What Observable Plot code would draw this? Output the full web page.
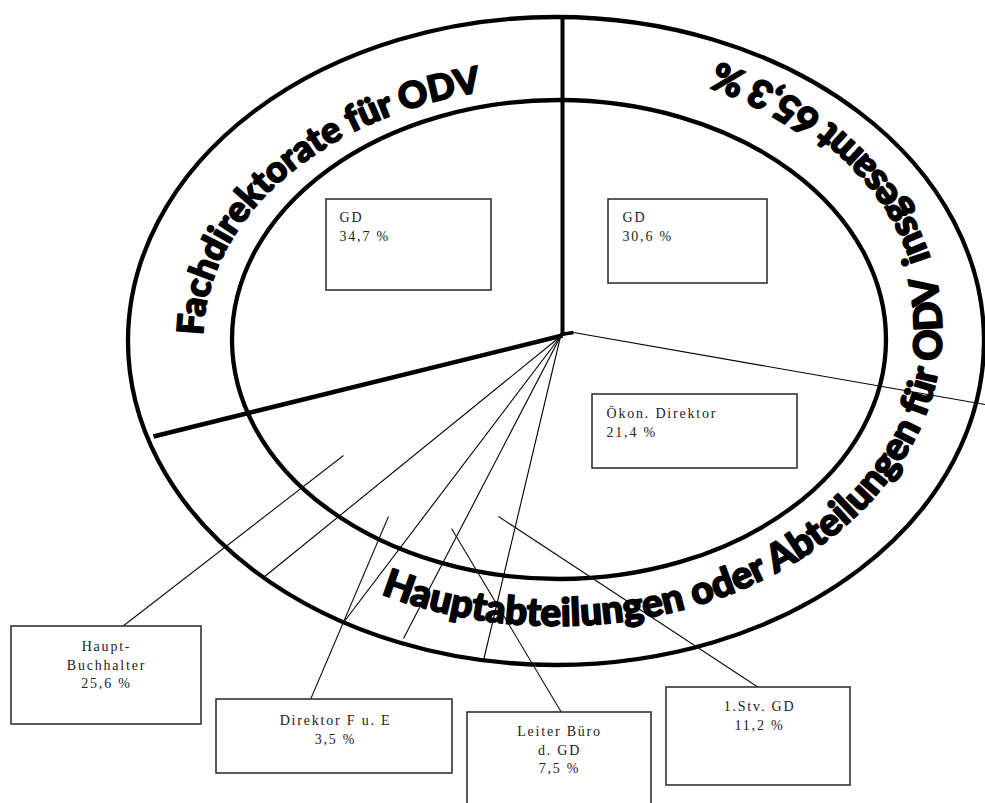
<!DOCTYPE html>
<html><head><meta charset="utf-8">
<script src="https://cdn.jsdelivr.net/npm/d3@7"></script>
<script src="https://cdn.jsdelivr.net/npm/@observablehq/plot@0.6"></script>
<style>
html,body{margin:0;padding:0;background:#fff;overflow:hidden;}
#chart svg{display:block;}
</style></head><body><div id="chart"></div>
<script>
// ---------------- data ----------------
const units  = ["GD", "GD", "Ökon. Direktor", "Haupt-\nBuchhalter", "Direktor F u. E", "Leiter Büro\nd. GD", "1.Stv. GD"];
const shares = [34.7, 30.6, 21.4, 25.6, 3.5, 7.5, 11.2];
const groupNames = ["Fachdirektorate für ODV", "Hauptabteilungen oder Abteilungen für ODV"];
const groupTotal = 65.3;

const fmt = v => v.toFixed(1).replace(".", ",") + " %";

// ---------------- layout (diagram geometry, in plot units) ----------------
const rings = [
  {cx: 556, cy: 341, rx: 428, ry: 324},   // outer ring
  {cx: 559, cy: 339.5, rx: 327, ry: 239.5} // inner ring
];
const dividers = [                         // heavy section borders
  {x1: 562, y1: 15,  x2: 562, y2: 335, w: 4},
  {x1: 560, y1: 334, x2: 573, y2: 332, w: 3.5},
  {x1: 562, y1: 335, x2: 153, y2: 436, w: 4.5}
];
const spokes = [                           // thin slice borders
  {x1: 573, y1: 332, x2: 990, y2: 405},
  {x1: 560, y1: 336, x2: 263, y2: 577},
  {x1: 560, y1: 336, x2: 343, y2: 622},
  {x1: 560, y1: 336, x2: 403, y2: 638},
  {x1: 560, y1: 336, x2: 483, y2: 660}
];
const leaders = [                          // callout lines
  {x1: 343, y1: 455, x2: 122, y2: 626},
  {x1: 388, y1: 516, x2: 310, y2: 699},
  {x1: 451, y1: 528, x2: 561, y2: 712},
  {x1: 498, y1: 516, x2: 758, y2: 687}
];
const boxes = [
  {x1: 326, y1: 199, x2: 491, y2: 290, tx: 339, ty: 209, anchor: "start"},
  {x1: 608, y1: 199, x2: 767, y2: 283, tx: 622, ty: 209, anchor: "start"},
  {x1: 592, y1: 394, x2: 797, y2: 468, tx: 606, ty: 405, anchor: "start"},
  {x1: 11,  y1: 626, x2: 201, y2: 724, tx: 106, ty: 638, anchor: "middle"},
  {x1: 216, y1: 699, x2: 452, y2: 773, tx: 335, ty: 712, anchor: "middle"},
  {x1: 467, y1: 712, x2: 651, y2: 815, tx: 559, ty: 723, anchor: "middle"},
  {x1: 666, y1: 687, x2: 850, y2: 785, tx: 759, ty: 698, anchor: "middle"}
];
const ringTexts = [
  {text: groupNames[0], cx: 557, cy: 340, rx: 354, ry: 254, t0: 181, t1: 258},
  {text: groupNames[1] + "  insgesamt " + fmt(groupTotal), cx: 556, cy: 330, rx: 386, ry: 296, t0: 117, t1: -66}
];

const boxData = units.map((u, i) => ({label: u + "\n" + fmt(shares[i]), ...boxes[i]}));

// ---------------- custom marks using Plot scales ----------------
function ringMark(index, scales) {
  const {x, y} = scales;
  const g = d3.create("svg:g").attr("fill", "none").attr("stroke", "#000").attr("stroke-width", 4.3);
  for (const e of rings) {
    g.append("ellipse")
      .attr("cx", x(e.cx)).attr("cy", y(e.cy))
      .attr("rx", Math.abs(x(e.cx + e.rx) - x(e.cx)))
      .attr("ry", Math.abs(y(e.cy + e.ry) - y(e.cy)));
  }
  return g.node();
}

const ringFont = "Lato, 'DejaVu Sans', 'Liberation Sans', sans-serif";

function ringTextMark(index, scales) {
  const {x, y} = scales;
  const g = d3.create("svg:g").attr("class", "ring-text").attr("text-anchor", "start");
  const defs = g.append("defs");
  ringTexts.forEach((r, i) => {
    const pt = t => [x(r.cx + r.rx * Math.cos(t)), y(r.cy + r.ry * Math.sin(t))];
    const t0 = r.t0 * Math.PI / 180, t1 = r.t1 * Math.PI / 180;
    const n = 240;
    let d = "", L = 0, prev = null;
    for (let k = 0; k <= n; k++) {
      const p = pt(t0 + (t1 - t0) * k / n);
      d += (k ? "L" : "M") + p[0].toFixed(2) + "," + p[1].toFixed(2);
      if (prev) L += Math.hypot(p[0] - prev[0], p[1] - prev[1]);
      prev = p;
    }
    const id = "ringpath" + i;
    defs.append("path").attr("id", id).attr("d", d);
    g.append("text")
      .attr("data-len", L.toFixed(1))
      .attr("text-anchor", "start")
      .attr("font-family", ringFont)
      .attr("font-weight", 900)
      .attr("font-size", 30)
      .attr("fill", "#000")
      .attr("stroke", "#000")
      .attr("stroke-width", 1.7)
      .attr("stroke-linejoin", "round")
      .style("white-space", "pre")
      .append("textPath")
      .attr("href", "#" + id)
      .attr("startOffset", 0)
      .text(r.text);
  });
  return g.node();
}

// ---------------- plot ----------------
const chart = Plot.plot({
  width: 985,
  height: 803,
  margin: 0,
  x: {domain: [0, 985], range: [0, 985], axis: null},
  y: {domain: [0, 803], range: [0, 803], axis: null},
  style: {background: "#fff"},
  marks: [
    ringMark,
    Plot.link(spokes, {x1: "x1", y1: "y1", x2: "x2", y2: "y2", stroke: "#000", strokeWidth: 1.1}),
    Plot.link(dividers, {x1: "x1", y1: "y1", x2: "x2", y2: "y2", stroke: "#000", strokeWidth: d => d.w, strokeLinecap: "butt"}),
    Plot.link(leaders, {x1: "x1", y1: "y1", x2: "x2", y2: "y2", stroke: "#111", strokeWidth: 1.1}),
    Plot.rect(boxData, {x1: "x1", x2: "x2", y1: "y1", y2: "y2", fill: "#fff", stroke: "#333", strokeWidth: 1.6}),
    Plot.text(boxData.filter(d => d.anchor === "start"), {x: "tx", y: "ty", text: "label", textAnchor: "start", lineAnchor: "top", lineHeight: 1.3, fontSize: 14, fontFamily: "'Liberation Serif', 'DejaVu Serif', serif", fill: "#222"}),
    Plot.text(boxData.filter(d => d.anchor === "middle"), {x: "tx", y: "ty", text: "label", textAnchor: "middle", lineAnchor: "top", lineHeight: 1.3, fontSize: 14, fontFamily: "'Liberation Serif', 'DejaVu Serif', serif", fill: "#222"}),
    ringTextMark
  ]
});
chart.querySelectorAll("text").forEach(t => { if (!t.querySelector("textPath")) t.style.letterSpacing = "1.8px"; });
document.getElementById("chart").append(chart);

// fit the ring captions to their arcs (measure natural advance, then scale font size)
chart.querySelectorAll("g.ring-text > text").forEach(t => {
  const L = +t.getAttribute("data-len");
  const probe = document.createElementNS("http://www.w3.org/2000/svg", "text");
  for (const a of ["font-family", "font-weight", "font-size"]) probe.setAttribute(a, t.getAttribute(a));
  probe.setAttribute("text-anchor", "start");
  probe.style.whiteSpace = "pre";
  probe.textContent = t.textContent;
  chart.appendChild(probe);
  const w = probe.getComputedTextLength();
  probe.remove();
  const fs = +t.getAttribute("font-size");
  if (w > 0) t.setAttribute("font-size", (fs * L / w * 0.995).toFixed(2));
});
</script>
</body></html>
